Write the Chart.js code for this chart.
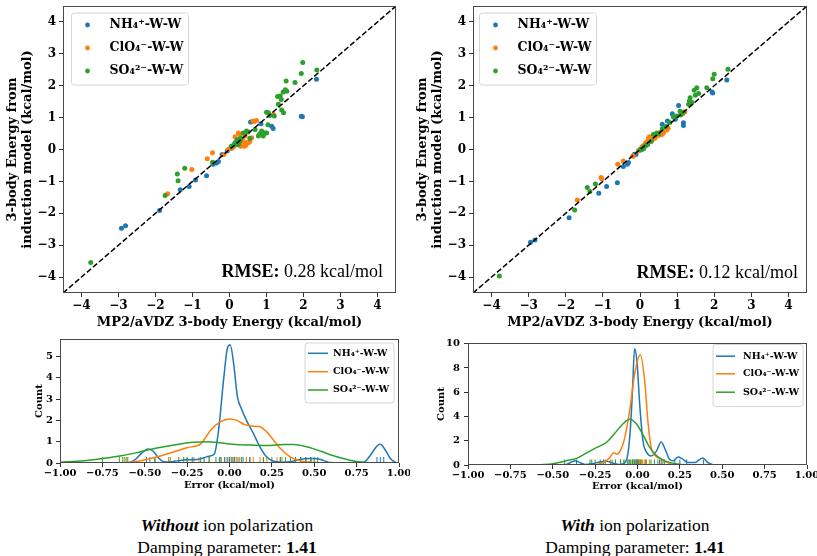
<!DOCTYPE html>
<html><head><meta charset="utf-8">
<script src="https://cdn.jsdelivr.net/npm/chart.js@4.4.1/dist/chart.umd.min.js"></script>
<style>
html,body{margin:0;padding:0;background:#fff}
body{width:817px;height:556px;position:relative;overflow:hidden;font-family:'Liberation Serif','Times New Roman',serif;color:#000}
canvas{position:absolute}
.cap{position:absolute;width:300px;text-align:center;font-size:17.5px;line-height:22px;white-space:nowrap}
</style></head>
<body>
<div class="cap" style="left:77px;top:514px"><b><i>Without</i></b> ion polarization<br>Damping parameter: <b>1.41</b></div>
<div class="cap" style="left:485px;top:514px"><b><i>With</i></b> ion polarization<br>Damping parameter: <b>1.41</b></div>
<script>
// ---------------- DATA ----------------
const seriesNames = ['NH\u2084\u207A-W-W', 'ClO\u2084\u207B-W-W', 'SO\u2084\u00B2\u207B-W-W'];
const seriesColors = ['#1f77b4', '#ff7f0e', '#2ca02c'];

const scatterTicks = [-4, -3, -2, -1, 0, 1, 2, 3, 4];
const scatterLimits = [-4.5, 4.5];
const errTicks = [-1, -0.75, -0.5, -0.25, 0, 0.25, 0.5, 0.75, 1];
const countTicksL = [0, 1, 2, 3, 4, 5];
const countTicksR = [0, 2, 4, 6, 8, 10];
const countMaxL = 5.82;
const countMaxR = 10.06;
const rmseL = '0.28 kcal/mol';
const rmseR = '0.12 kcal/mol';

// Without ion polarization: MP2 (x) vs induction model (y)
const woNH4_x = [-2.92,-2.81,-1.89,-1.33,-1.09,-0.92,-0.62,-0.44,-0.35,-0.30,-0.20,-0.06,0.05,0.10,0.15,0.20,0.24,0.30,0.57,0.85,1.14,1.18,1.94,1.97,2.35];
const woNH4_y = [-2.47,-2.39,-1.91,-1.26,-1.16,-0.96,-0.82,-0.46,-0.42,-0.38,-0.16,-0.05,0.04,0.12,0.21,0.25,0.31,0.28,0.86,0.81,0.73,0.66,1.04,1.03,2.20];
const woClO4_x = [-1.67,-1.02,-0.60,-0.46,-0.15,-0.04,0.02,0.06,0.10,0.13,0.15,0.19,0.22,0.24,0.28,0.30,0.30,0.35,0.37,0.40,0.42,0.44,0.45,0.50,0.55,0.60,0.64,0.67,0.73,1.19];
const woClO4_y = [-1.39,-0.63,-0.29,-0.10,-0.16,0.00,0.03,0.05,0.08,0.12,0.40,0.21,0.15,0.52,0.47,0.35,0.10,0.30,0.16,0.10,0.42,0.13,0.22,0.20,0.25,0.37,0.89,0.88,0.91,1.10];
const woSO4_x = [-3.75,-1.74,-1.41,-1.39,-1.21,-0.46,0.05,0.12,0.15,0.20,0.24,0.28,0.30,0.37,0.46,0.50,0.55,0.69,0.78,0.82,0.87,0.91,0.96,1.00,1.04,1.00,1.05,1.09,1.21,1.30,1.32,1.37,1.40,1.41,1.46,1.45,1.51,1.55,1.53,1.77,1.94,1.98,2.36];
const woSO4_y = [-3.54,-1.44,-0.77,-0.98,-0.59,-0.40,0.10,0.15,0.16,0.30,0.16,0.26,0.35,0.52,0.58,0.55,0.35,0.63,0.42,0.49,0.58,0.42,0.52,0.52,0.78,1.17,1.15,1.07,1.05,1.66,1.42,1.68,1.57,1.24,1.15,1.80,1.87,1.83,2.15,2.10,2.38,2.73,2.49];

// With ion polarization
const wNH4_x = [-2.95,-2.83,-1.91,-1.11,-0.90,-0.61,-0.45,-0.34,-0.31,-0.15,-0.11,0.00,0.10,0.20,0.30,0.60,0.74,0.87,1.04,1.17,1.17,1.94,1.96,2.34,0.95];
const wNH4_y = [-2.91,-2.84,-2.14,-1.37,-1.16,-1.04,-0.53,-0.46,-0.41,-0.15,-0.16,-0.02,0.10,0.18,0.28,0.79,0.89,1.12,1.38,0.84,0.75,1.80,1.77,2.18,0.95];
const wClO4_x = [-1.69,-1.05,-1.03,-0.60,-0.45,-0.20,-0.18,-0.05,0.05,0.09,0.10,0.14,0.15,0.20,0.22,0.23,0.25,0.27,0.30,0.35,0.40,0.45,0.50,0.55,0.59,0.63,0.72,0.76,1.15,1.21];
const wClO4_y = [-1.58,-0.88,-0.92,-0.46,-0.36,-0.20,-0.21,-0.05,0.08,0.10,0.12,0.16,0.20,0.25,0.21,0.35,0.40,0.31,0.30,0.32,0.35,0.42,0.45,0.55,0.47,0.52,0.61,0.67,1.12,1.18];
const wSO4_x = [-3.79,-1.76,-1.42,-1.35,-1.20,0.00,0.05,0.09,0.10,0.15,0.20,0.30,0.36,0.40,0.45,0.50,0.60,0.70,0.80,0.90,0.99,1.08,1.17,1.10,1.31,1.33,1.35,1.40,1.49,1.58,1.46,1.53,1.80,1.96,2.00,2.37];
const wSO4_y = [-3.97,-1.90,-1.19,-1.32,-1.08,0.00,0.00,0.02,0.05,0.12,0.15,0.25,0.47,0.46,0.52,0.50,0.65,0.72,0.85,1.03,1.05,1.20,1.17,1.08,1.42,1.52,1.62,1.47,1.70,1.76,1.86,1.94,1.94,2.22,2.36,2.52];

// Error density curves — without polarization
const kdeWoNH4_x = [-0.62,-0.58,-0.55,-0.52,-0.48,-0.45,-0.42,-0.39,-0.35,-0.31,-0.25,-0.19,-0.15,-0.12,-0.09,-0.065,-0.035,-0.012,0.004,0.024,0.047,0.073,0.10,0.14,0.18,0.22,0.26,0.31,0.36,0.42,0.47,0.52,0.56,0.59,0.65,0.73,0.79,0.83,0.87,0.89,0.92,0.95,0.98,1.0];
const kdeWoNH4_y = [0.0,0.05,0.2,0.45,0.66,0.55,0.25,0.06,0.05,0.1,0.15,0.16,0.25,0.32,0.42,1.5,3.9,5.4,5.55,4.7,3.1,2.5,2.0,1.4,0.75,0.28,0.08,0.04,0.06,0.18,0.21,0.2,0.1,0.02,0.0,0.0,0.02,0.35,0.8,0.88,0.6,0.2,0.03,0.0];
const kdeWoClO4_x = [-0.665,-0.57,-0.47,-0.37,-0.25,-0.17,-0.11,-0.055,0.0,0.043,0.09,0.14,0.18,0.22,0.26,0.30,0.36,0.42,0.50,0.555];
const kdeWoClO4_y = [0.0,0.05,0.2,0.42,0.72,0.9,1.55,1.93,2.07,2.0,1.8,1.73,1.7,1.46,1.07,0.68,0.28,0.1,0.03,0.0];
const kdeWoSO4_x = [-1.0,-0.86,-0.74,-0.63,-0.53,-0.43,-0.31,-0.21,-0.13,-0.055,0.02,0.12,0.22,0.32,0.38,0.46,0.54,0.61,0.71,0.79,0.87,1.0];
const kdeWoSO4_y = [0.04,0.1,0.22,0.35,0.52,0.7,0.87,0.97,1.0,0.95,0.88,0.84,0.82,0.87,0.87,0.75,0.55,0.35,0.13,0.03,0.0,0.0];
// rug positions (errors)
const rugWoNH4 = [-0.49,-0.47,-0.44,-0.30,-0.22,-0.15,-0.06,-0.03,-0.01,0.0,0.01,0.02,0.03,0.05,0.08,0.10,0.12,0.30,0.42,0.45,0.48,0.87,0.89,0.91];
const rugWoClO4 = [-0.62,-0.36,-0.30,-0.25,-0.21,-0.18,-0.12,-0.05,-0.02,0.0,0.02,0.04,0.06,0.10,0.14,0.18,0.20,0.22,0.28,0.31,0.36,0.39,0.45];
const rugWoSO4 = [-0.75,-0.65,-0.63,-0.61,-0.60,-0.44,-0.35,-0.27,-0.25,-0.17,-0.12,-0.08,-0.05,0.0,0.03,0.07,0.12,0.20,0.25,0.30,0.33,0.36,0.39,0.42,0.45,0.48,0.50,0.52];

// with polarization
const kdeWNH4_x = [-0.465,-0.42,-0.38,-0.365,-0.34,-0.31,-0.27,-0.22,-0.18,-0.145,-0.105,-0.076,-0.056,-0.042,-0.03,-0.017,-0.003,0.013,0.032,0.056,0.08,0.11,0.14,0.166,0.19,0.21,0.24,0.265,0.30,0.34,0.36,0.386,0.416,0.445,0.465];
const kdeWNH4_y = [0.0,0.05,0.3,0.35,0.2,0.05,0.1,0.25,0.3,0.15,0.05,0.15,1.0,3.0,6.0,9.6,8.5,5.0,2.0,1.0,0.75,1.1,1.9,1.2,0.45,0.35,0.65,0.5,0.2,0.2,0.4,0.57,0.2,0.03,0.0];
const kdeWClO4_x = [-0.24,-0.20,-0.165,-0.14,-0.12,-0.10,-0.076,-0.046,-0.017,0.017,0.042,0.062,0.08,0.11,0.14,0.17,0.21,0.24];
const kdeWClO4_y = [0.03,0.2,0.6,1.0,0.9,1.2,2.2,4.5,7.5,9.1,7.0,3.5,1.5,0.7,0.5,0.25,0.05,0.0];
const kdeWSO4_x = [-0.58,-0.50,-0.42,-0.36,-0.30,-0.24,-0.18,-0.135,-0.085,-0.046,-0.007,0.032,0.07,0.11,0.15,0.21,0.27,0.31];
const kdeWSO4_y = [0.02,0.1,0.35,0.55,1.0,1.45,1.9,2.6,3.4,3.77,3.4,2.5,1.5,0.8,0.4,0.15,0.03,0.0];
const rugWNH4 = [-0.36,-0.20,-0.10,-0.05,-0.03,-0.02,-0.015,-0.01,-0.005,0.0,0.005,0.01,0.05,0.13,0.14,0.15,0.22,0.25,0.29,0.39];
const rugWClO4 = [-0.16,-0.13,-0.08,-0.04,-0.01,0.0,0.01,0.015,0.02,0.025,0.03,0.04,0.05,0.07,0.14];
const rugWSO4 = [-0.43,-0.28,-0.27,-0.25,-0.22,-0.19,-0.15,-0.13,-0.10,-0.08,-0.06,-0.05,-0.04,-0.03,-0.02,0.0,0.02,0.05,0.08,0.10,0.12,0.16];

// ---------------- HELPERS ----------------
const pts = (xs, ys) => xs.map((x, i) => ({x, y: ys[i]}));
const rugPts = xs => xs.map(x => ({x, y: 0}));
const minus = v => (v < 0 ? '\u2212' : '') + Math.abs(v);
const fmtInt = v => (v < 0 ? '\u2212' : '') + Math.abs(Math.round(v));
const fmt2 = v => (v < 0 ? '\u2212' : '') + Math.abs(v).toFixed(2);
const serifBold = (size, lh) => ({family: "'DejaVu Serif', serif", weight: 'bold', size, lineHeight: lh || 1.2});

function makeCanvas(left, top, w, h) {
  const c = document.createElement('canvas');
  c.width = w; c.height = h;
  c.style.left = left + 'px'; c.style.top = top + 'px';
  c.style.width = w + 'px'; c.style.height = h + 'px';
  document.body.appendChild(c);
  return c;
}

const framePlugin = {
  id: 'frame',
  afterDatasetsDraw(chart) {
    const {ctx, chartArea: a} = chart;
    ctx.save();
    ctx.strokeStyle = '#4a4a4a'; ctx.lineWidth = 1;
    ctx.strokeRect(Math.round(a.left) + 0.5, Math.round(a.top) + 0.5, Math.round(a.right - a.left) - 1, Math.round(a.bottom - a.top) - 1);
    ctx.restore();
  }
};

const boxLegend = {
  id: 'boxLegend',
  afterDraw(chart, args, o) {
    if (!o || !o.labels) return;
    const {ctx, chartArea: a} = chart;
    const x0 = o.side === 'left' ? a.left + o.dx : a.right - o.dx - o.w;
    const y0 = a.top + o.dy;
    ctx.save();
    ctx.beginPath();
    const r = 3;
    ctx.moveTo(x0 + r, y0); ctx.lineTo(x0 + o.w - r, y0); ctx.quadraticCurveTo(x0 + o.w, y0, x0 + o.w, y0 + r);
    ctx.lineTo(x0 + o.w, y0 + o.h - r); ctx.quadraticCurveTo(x0 + o.w, y0 + o.h, x0 + o.w - r, y0 + o.h);
    ctx.lineTo(x0 + r, y0 + o.h); ctx.quadraticCurveTo(x0, y0 + o.h, x0, y0 + o.h - r);
    ctx.lineTo(x0, y0 + r); ctx.quadraticCurveTo(x0, y0, x0 + r, y0); ctx.closePath();
    ctx.fillStyle = 'rgba(255,255,255,0.85)'; ctx.fill();
    ctx.strokeStyle = '#d6d6d6'; ctx.lineWidth = 1; ctx.stroke();
    ctx.font = o.font; ctx.textBaseline = 'middle'; ctx.textAlign = 'left'; ctx.fillStyle = '#000';
    o.labels.forEach((lab, i) => {
      const yy = y0 + o.rows[i];
      ctx.fillStyle = o.colors[i]; ctx.strokeStyle = o.colors[i];
      if (o.kind === 'dot') {
        ctx.beginPath(); ctx.arc(x0 + o.markX, yy, 2.4, 0, Math.PI * 2); ctx.fill();
      } else {
        ctx.lineWidth = 1.5; ctx.beginPath(); ctx.moveTo(x0 + o.lineX[0], yy); ctx.lineTo(x0 + o.lineX[1], yy); ctx.stroke();
      }
      ctx.fillStyle = '#000';
      ctx.fillText(lab, x0 + o.textX, yy);
    });
    ctx.restore();
  }
};

const rmsePlugin = {
  id: 'rmse',
  afterDraw(chart, args, o) {
    if (!o || !o.value) return;
    const {ctx, chartArea: a} = chart;
    ctx.save();
    ctx.textBaseline = 'alphabetic'; ctx.fillStyle = '#000';
    const f1 = "bold 18px 'Liberation Serif', serif", f2 = "18px 'Liberation Serif', serif";
    ctx.font = f2; const w2 = ctx.measureText(' ' + o.value).width;
    ctx.font = f1; const w1 = ctx.measureText('RMSE:').width;
    const xr = a.right - o.dr, yb = a.bottom - o.db;
    ctx.font = f1; ctx.fillText('RMSE:', xr - w2 - w1, yb);
    ctx.font = f2; ctx.fillText(' ' + o.value, xr - w2, yb);
    ctx.restore();
  }
};

Chart.register(framePlugin, boxLegend, rmsePlugin);

function scatterChart(canvas, series, padRight, rmse, legendDx, rm) {
  const datasets = series.map((s, i) => ({
    type: 'scatter', label: seriesNames[i], data: s,
    backgroundColor: seriesColors[i], borderColor: seriesColors[i],
    pointRadius: 2.5, pointBorderWidth: 0, pointHoverRadius: 2.5, order: 3 - i
  }));
  datasets.push({
    type: 'line', label: 'y=x', data: pts(scatterLimits, scatterLimits),
    borderColor: '#000', borderWidth: 1.5, borderDash: [5.5, 2.4], pointRadius: 0, fill: false, order: 0
  });
  return new Chart(canvas, {
    data: {datasets},
    options: {
      responsive: false, animation: false, devicePixelRatio: 1,
      layout: {padding: {left: 0, right: padRight, top: 6, bottom: 0}},
      plugins: {
        legend: {display: false}, tooltip: {enabled: false},
        boxLegend: {labels: seriesNames, colors: seriesColors, kind: 'dot', side: 'left', dx: legendDx, dy: 7, w: 117, h: 72,
          rows: [12, 35, 58], markX: 16, textX: 38, font: "bold 12.5px 'DejaVu Serif', serif"},
        rmse: {value: rmse, dr: rm[0], db: rm[1]}
      },
      scales: {
        x: {
          type: 'linear', min: scatterLimits[0], max: scatterLimits[1],
          afterBuildTicks: s => { s.ticks = scatterTicks.map(v => ({value: v})); },
          afterFit: s => { s.height = 42; s.paddingLeft = 0; s.paddingRight = 0; },
          ticks: {callback: v => fmtInt(v), font: serifBold(12), color: '#000', padding: 2, maxRotation: 0, autoSkip: false},
          grid: {display: true, drawOnChartArea: false, drawTicks: true, tickLength: 4, tickColor: '#333', tickWidth: 1},
          border: {display: false},
          title: {display: true, text: 'MP2/aVDZ 3-body Energy (kcal/mol)', font: serifBold(13, 1.15), color: '#000', padding: {top: 0, bottom: 5}}
        },
        y: {
          type: 'linear', min: scatterLimits[0], max: scatterLimits[1],
          afterBuildTicks: s => { s.ticks = scatterTicks.map(v => ({value: v})); },
          afterFit: s => { s.width = 63; s.paddingTop = 0; s.paddingBottom = 0; },
          ticks: {callback: v => fmtInt(v), font: serifBold(12), color: '#000', padding: 3, autoSkip: false},
          grid: {display: true, drawOnChartArea: false, drawTicks: true, tickLength: 4, tickColor: '#333', tickWidth: 1},
          border: {display: false},
          title: {display: true, text: ['3-body Energy from', 'induction model (kcal/mol)'], font: serifBold(13, 1.15), color: '#000', padding: {top: 5.5, bottom: 0}}
        }
      }
    }
  });
}

function kdeChart(canvas, curves, rugs, cfg) {
  const datasets = [];
  curves.forEach((c, i) => datasets.push({
    type: 'line', label: seriesNames[i], data: c, borderColor: seriesColors[i], backgroundColor: seriesColors[i],
    borderWidth: 1.5, pointRadius: 0, fill: false, cubicInterpolationMode: 'monotone', order: 3 - i, clip: 0
  }));
  rugs.forEach((r, i) => datasets.push({
    type: 'scatter', label: seriesNames[i] + ' rug', data: r, pointStyle: 'line', rotation: 90,
    pointRadius: cfg.rugLen, pointHoverRadius: cfg.rugLen, pointBorderWidth: 1, borderColor: seriesColors[i],
    pointBorderColor: seriesColors[i], backgroundColor: seriesColors[i], order: 10 - i, clip: 0
  }));
  return new Chart(canvas, {
    data: {datasets},
    options: {
      responsive: false, animation: false, devicePixelRatio: 1,
      layout: {padding: {left: 0, right: cfg.padRight, top: cfg.padTop, bottom: 0}},
      plugins: {
        legend: {display: false}, tooltip: {enabled: false},
        boxLegend: {labels: seriesNames, colors: seriesColors, kind: 'line', side: 'right', dx: cfg.legDx, dy: cfg.legDy, w: cfg.legW, h: cfg.legH,
          rows: cfg.legRows, lineX: cfg.legLine, textX: cfg.legTextX, font: "bold 9.5px 'DejaVu Serif', serif"}
      },
      scales: {
        x: {
          type: 'linear', min: -1, max: 1,
          afterBuildTicks: s => { s.ticks = errTicks.map(v => ({value: v})); },
          afterFit: s => { s.height = cfg.xh; s.paddingLeft = 0; s.paddingRight = 0; },
          ticks: {callback: v => fmt2(v), font: serifBold(10), color: '#000', padding: 0, maxRotation: 0, autoSkip: false},
          grid: {display: true, drawOnChartArea: false, drawTicks: true, tickLength: 4, tickColor: '#333', tickWidth: 1},
          border: {display: false},
          title: {display: true, text: 'Error (kcal/mol)', font: serifBold(10), color: '#000', padding: {top: 0, bottom: cfg.xTitlePad}}
        },
        y: {
          type: 'linear', min: 0, max: cfg.ymax,
          afterBuildTicks: s => { s.ticks = cfg.yticks.map(v => ({value: v})); },
          afterFit: s => { s.width = cfg.yw; s.paddingTop = 0; s.paddingBottom = 0; },
          ticks: {callback: v => minus(v), font: serifBold(10), color: '#000', padding: cfg.yTickPad, autoSkip: false},
          grid: {display: true, drawOnChartArea: false, drawTicks: true, tickLength: 4, tickColor: '#333', tickWidth: 1},
          border: {display: false},
          title: {display: true, text: 'Count', font: serifBold(10), color: '#000', padding: {top: cfg.yTitlePad, bottom: 0}}
        }
      }
    }
  });
}

// ---------------- CHARTS ----------------
scatterChart(makeCanvas(0, 0, 410, 335),
  [pts(woNH4_x, woNH4_y), pts(woClO4_x, woClO4_y), pts(woSO4_x, woSO4_y)], 14, rmseL, 8.5, [13, 16]);
scatterChart(makeCanvas(410, 0, 407, 335),
  [pts(wNH4_x, wNH4_y), pts(wClO4_x, wClO4_y), pts(wSO4_x, wSO4_y)], 10, rmseR, 6.5, [9, 15]);

kdeChart(makeCanvas(0, 330, 410, 170),
  [pts(kdeWoNH4_x, kdeWoNH4_y), pts(kdeWoClO4_x, kdeWoClO4_y), pts(kdeWoSO4_x, kdeWoSO4_y)],
  [rugPts(rugWoNH4), rugPts(rugWoClO4), rugPts(rugWoSO4)],
  {padRight: 11, padTop: 9, xh: 37, yw: 60, ymax: countMaxL, yticks: countTicksL, xTitlePad: 9, yTitlePad: 33.5, yTickPad: 3,
   rugLen: 6, legDx: 5, legDy: 4, legW: 89, legH: 60, legRows: [10.3, 28.7, 47], legLine: [3, 23], legTextX: 28});
kdeChart(makeCanvas(410, 330, 407, 170),
  [pts(kdeWNH4_x, kdeWNH4_y), pts(kdeWClO4_x, kdeWClO4_y), pts(kdeWSO4_x, kdeWSO4_y)],
  [rugPts(rugWNH4), rugPts(rugWClO4), rugPts(rugWSO4)],
  {padRight: 10, padTop: 13, xh: 35, yw: 58, ymax: countMaxR, yticks: countTicksR, xTitlePad: 7.3, yTitlePad: 25.7, yTickPad: 4,
   rugLen: 5.5, legDx: 4, legDy: 1.5, legW: 90, legH: 62, legRows: [11.7, 29.3, 47.7], legLine: [3, 22], legTextX: 30});
</script>
</body></html>
